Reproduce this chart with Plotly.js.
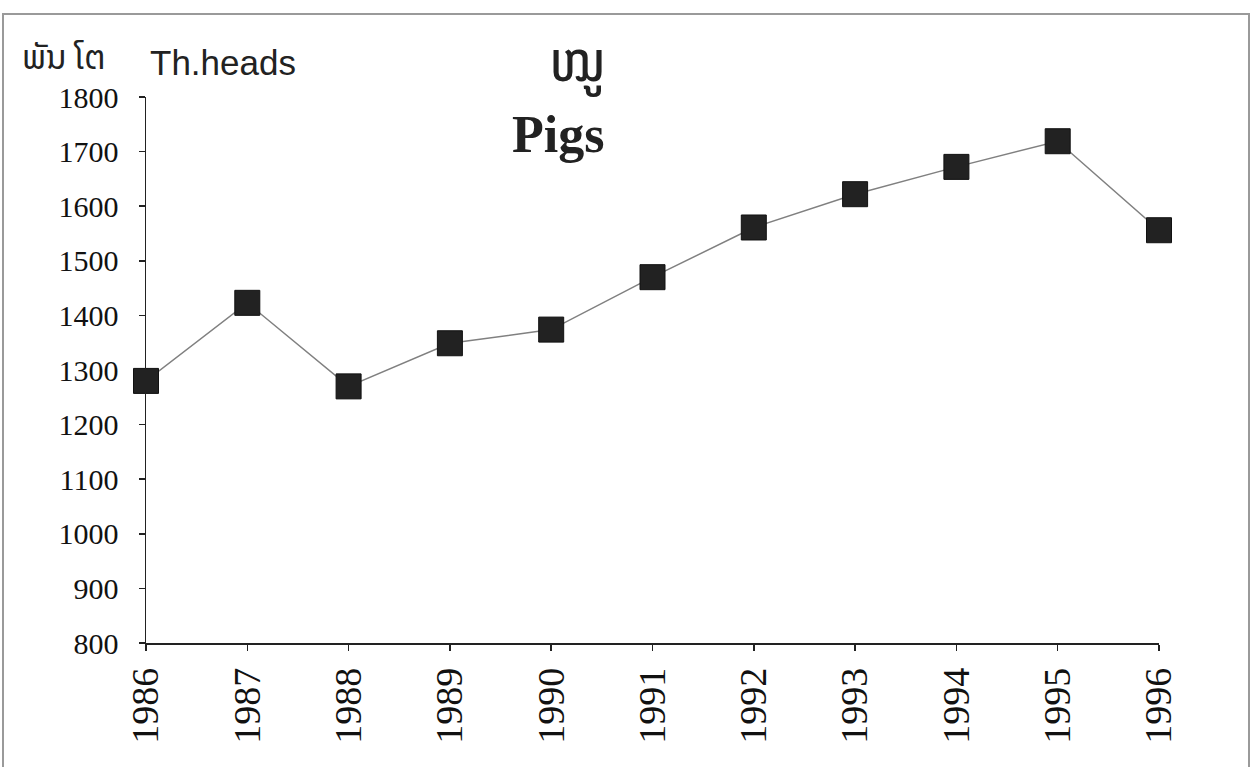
<!DOCTYPE html>
<html>
<head>
<meta charset="utf-8">
<script src="https://cdn.plot.ly/plotly-3.0.1.min.js"></script>
<style>
html, body { margin:0; padding:0; background:#fff; }
#chart { position:absolute; left:0; top:0; width:1250px; height:767px; }
#frame { position:absolute; left:2px; top:13px; width:1244px; height:780px; border-left:2px solid #9a9a9a; border-top:2px solid #9a9a9a; border-right:2px solid #9a9a9a; pointer-events:none; }
</style>
</head>
<body>
<div id="chart"></div>
<div id="frame"></div>
<script>
const years = [1986, 1987, 1988, 1989, 1990, 1991, 1992, 1993, 1994, 1995, 1996];
const pigs = [1280, 1423, 1270, 1349, 1374, 1470, 1561, 1622, 1672, 1719, 1556];
const yTicks = [800, 900, 1000, 1100, 1200, 1300, 1400, 1500, 1600, 1700, 1800];
const titleLao = 'ໝູ';
const titleEn = 'Pigs';
const unitLao = 'ພັນ ໂຕ';
const unitEn = 'Th.heads';

const serif = 'Liberation Serif';
const laoFont = '"Noto Sans Lao", "Noto Sans", "DejaVu Sans", sans-serif';

Plotly.newPlot('chart', [{
  x: years,
  y: pigs,
  type: 'scatter',
  mode: 'lines+markers',
  line: {color: '#808080', width: 1.5},
  marker: {symbol: 'square', size: 25, color: '#222222', line: {color: '#111111', width: 1}},
  cliponaxis: false,
  hoverinfo: 'x+y'
}], {
  width: 1250, height: 767,
  margin: {l: 146, r: 91, t: 97, b: 124},
  paper_bgcolor: '#ffffff', plot_bgcolor: '#ffffff',
  showlegend: false,
  xaxis: {
    range: [1986, 1996],
    tickvals: years,
    ticktext: years.map(String),
    tickangle: -90,
    ticks: 'outside', ticklen: 6, tickcolor: '#222', tickwidth: 1.5,
    ticklabelstandoff: 2,
    showline: true, linecolor: '#222', linewidth: 1.5,
    showgrid: false, zeroline: false,
    tickfont: {family: serif, size: 38, color: '#111'}
  },
  yaxis: {
    range: [800, 1800],
    tickvals: yTicks,
    ticks: 'outside', ticklen: 6, tickcolor: '#222', tickwidth: 1.5,
    ticklabelstandoff: 14,
    showline: true, linecolor: '#222', linewidth: 1.5,
    showgrid: false, zeroline: false,
    tickfont: {family: serif, size: 30, color: '#111'}
  },
  annotations: [
    {text: unitLao, xref: 'paper', yref: 'paper', x: (64 - 146) / 1013, y: (643 - 57) / 546, xanchor: 'center', yanchor: 'middle', showarrow: false, font: {family: laoFont, size: 33, color: '#222'}},
    {text: unitEn, xref: 'paper', yref: 'paper', x: (148 - 146) / 1013, y: (643 - 62) / 546, xanchor: 'left', yanchor: 'middle', showarrow: false, font: {family: 'Liberation Sans', size: 35, color: '#222'}},
    {text: titleLao, xref: 'paper', yref: 'paper', x: (577 - 146) / 1013, y: (643 - 60) / 546, xanchor: 'center', yanchor: 'middle', showarrow: false, font: {family: laoFont, size: 58, color: '#222'}},
    {text: '<b>' + titleEn + '</b>', xref: 'paper', yref: 'paper', x: (558 - 146) / 1013, y: (643 - 134) / 546, xanchor: 'center', yanchor: 'middle', showarrow: false, font: {family: serif, size: 52, color: '#222'}}
  ]
}, {staticPlot: true});
</script>
</body>
</html>
